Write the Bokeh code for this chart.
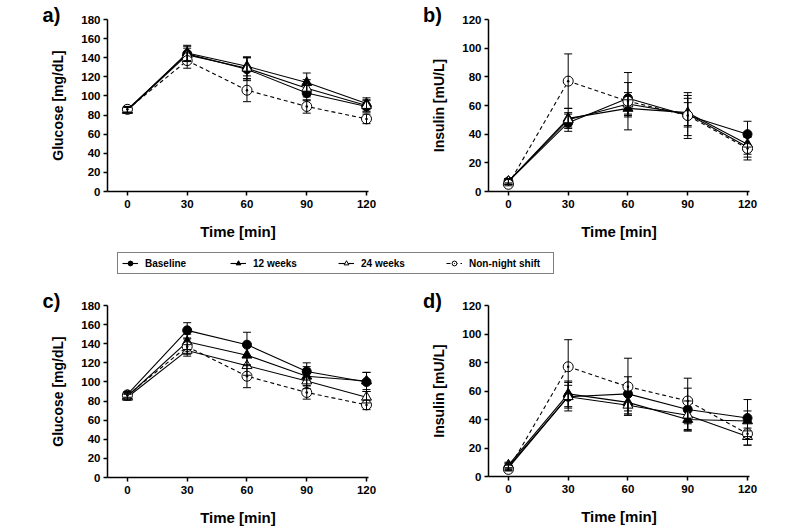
from bokeh.plotting import figure
from bokeh.layouts import column, row
from bokeh.models import (ColumnDataSource, Whisker, TeeHead, FixedTicker, Range1d,
                          Label, Legend, LegendItem)
from bokeh.embed import file_html
from bokeh.resources import INLINE

# ---------------- data ----------------
time_min = [0, 30, 60, 90, 120]
glucose_ticks = [0, 20, 40, 60, 80, 100, 120, 140, 160, 180]
insulin_ticks = [0, 20, 40, 60, 80, 100, 120]
series_names = ["Baseline", "12 weeks", "24 weeks", "Non-night shift"]

# panel a) glucose
a_baseline = [86, 144, 128, 103, 89]
a_baseline_err = [3, 8, 12, 8, 6]
a_12w = [85, 145, 131, 114, 92]
a_12w_err = [3, 8, 10, 10, 6]
a_24w = [85, 143, 129, 108, 90]
a_24w_err = [3, 7, 11, 9, 6]
a_nonnight = [86, 137, 106, 89, 76]
a_nonnight_err = [3, 8, 12, 7, 5]

# panel b) insulin
b_baseline = [7, 48, 65, 53, 40]
b_baseline_err = [2, 6, 11, 14, 9]
b_12w = [7, 51, 58, 55, 33]
b_12w_err = [2, 7, 6, 10, 7]
b_24w = [7, 50, 61, 54, 31]
b_24w_err = [2, 5, 8, 8, 7]
b_nonnight = [5, 77, 63, 53, 30]
b_nonnight_err = [1, 19, 20, 16, 8]

# panel c) glucose
c_baseline = [87, 154, 139, 111, 100]
c_baseline_err = [3, 8, 13, 9, 10]
c_12w = [85, 142, 128, 106, 101]
c_12w_err = [3, 8, 11, 10, 9]
c_24w = [84, 133, 117, 101, 84]
c_24w_err = [3, 6, 10, 8, 6]
c_nonnight = [86, 137, 106, 89, 76]
c_nonnight_err = [3, 8, 12, 7, 5]

# panel d) insulin
d_baseline = [6, 56, 58, 47, 41]
d_baseline_err = [2, 10, 12, 15, 13]
d_12w = [8, 58, 52, 40, 39]
d_12w_err = [2, 9, 8, 8, 7]
d_24w = [7, 56, 50, 43, 28]
d_24w_err = [2, 8, 7, 10, 6]
d_nonnight = [5, 77, 63, 53, 30]
d_nonnight_err = [1, 19, 20, 16, 8]

FONT = "Liberation Sans"
STYLES = [
    dict(marker="circle", fill="black", size=9, dash="solid"),
    dict(marker="triangle", fill="black", size=10, dash="solid"),
    dict(marker="triangle", fill="white", size=10, dash="solid"),
    dict(marker="circle_dot", fill="white", size=10, dash="4 3"),
]

W, H = 400, 245
panel_sources = {}


def make_panel(key, letter, ylabel, ytop, yticks, series, axis_px, y0_px, ytop_px):
    # pixel layout: x=-10 at axis_px, x=120 at axis_px+259; y=0 at y0_px, y=ytop at ytop_px
    xs = 259.0 / 130.0
    ys = (y0_px - ytop_px) / ytop
    x_start = -10 - axis_px / xs
    x_end = -10 + (W - axis_px) / xs
    y_start = -(H - y0_px) / ys
    y_end = y0_px / ys
    p = figure(width=W, height=H, output_backend="svg", toolbar_location=None,
               x_range=Range1d(x_start, x_end), y_range=Range1d(y_start, y_end),
               min_border_left=0, min_border_right=0, min_border_top=0, min_border_bottom=0)
    p.outline_line_color = None
    p.xgrid.visible = False
    p.ygrid.visible = False
    p.background_fill_color = "white"
    p.border_fill_color = "white"

    srcs = []
    for (vals, errs), st in zip(series, STYLES):
        lower = [v - e for v, e in zip(vals, errs)]
        upper = [v + e for v, e in zip(vals, errs)]
        src = ColumnDataSource(dict(x=time_min, y=vals, lower=lower, upper=upper))
        srcs.append(src)
        p.add_layout(Whisker(source=src, base="x", lower="lower", upper="upper",
                             line_color="black", line_width=1, level="glyph",
                             upper_head=TeeHead(size=8, line_color="black", line_width=1),
                             lower_head=TeeHead(size=8, line_color="black", line_width=1)))
        p.line("x", "y", source=src, line_color="black", line_width=1.1, line_dash=st["dash"])
        p.scatter("x", "y", source=src, marker=st["marker"], size=st["size"],
                  fill_color=st["fill"], line_color="black", line_width=1)
    panel_sources[key] = srcs

    for ax in (p.xaxis[0], p.yaxis[0]):
        ax.axis_line_color = "black"
        ax.axis_line_width = 1.5
        ax.major_tick_line_color = "black"
        ax.major_tick_line_width = 1.5
        ax.major_tick_out = 4
        ax.major_tick_in = 0
        ax.minor_tick_line_color = None
        ax.major_label_text_font = FONT
        ax.major_label_text_font_style = "bold"
        ax.major_label_text_font_size = "11.5px"
        ax.major_label_text_color = "black"
        ax.axis_label_text_font = FONT
        ax.axis_label_text_font_style = "bold"
        ax.axis_label_text_color = "black"

    p.xaxis.fixed_location = 0
    p.xaxis.ticker = FixedTicker(ticks=time_min)
    p.xaxis.bounds = (-10, 121)
    p.xaxis.axis_label = "Time [min]"
    p.xaxis.axis_label_text_font_size = "15px"
    p.xaxis.major_label_standoff = 4
    p.xaxis.axis_label_standoff = 12

    p.yaxis.fixed_location = -10
    p.yaxis.ticker = FixedTicker(ticks=yticks)
    p.yaxis.bounds = (0, ytop)
    p.yaxis.axis_label = ylabel
    p.yaxis.axis_label_text_font_size = "14px"
    p.yaxis.major_label_standoff = 3
    p.yaxis.axis_label_standoff = 12

    # panel letter, centred ~56 px left of the y axis and ~4.5 px above its top tick
    p.add_layout(Label(x=-10 - 56 / xs, y=ytop + 4.5 / ys, text=letter, text_font=FONT,
                       text_font_style="bold", text_font_size="20px", text_color="black",
                       text_align="center", text_baseline="middle"))
    return p


pa = make_panel("a", "a)", "Glucose [mg/dL]", 180, glucose_ticks,
                [(a_baseline, a_baseline_err), (a_12w, a_12w_err),
                 (a_24w, a_24w_err), (a_nonnight, a_nonnight_err)],
                107, 191, 19)
pb = make_panel("b", "b)", "Insulin [mU/L]", 120, insulin_ticks,
                [(b_baseline, b_baseline_err), (b_12w, b_12w_err),
                 (b_24w, b_24w_err), (b_nonnight, b_nonnight_err)],
                88, 191, 19)
pc = make_panel("c", "c)", "Glucose [mg/dL]", 180, glucose_ticks,
                [(c_baseline, c_baseline_err), (c_12w, c_12w_err),
                 (c_24w, c_24w_err), (c_nonnight, c_nonnight_err)],
                107, 192, 20)
pd_ = make_panel("d", "d)", "Insulin [mU/L]", 120, insulin_ticks,
                 [(d_baseline, d_baseline_err), (d_12w, d_12w_err),
                  (d_24w, d_24w_err), (d_nonnight, d_nonnight_err)],
                 88, 191, 20)

# ---------------- legend strip ----------------
# legend renderers reuse panel a's data; the strip's ranges keep them out of view
pl = figure(width=800, height=40, output_backend="svg", toolbar_location=None,
            x_range=Range1d(1000, 1001), y_range=Range1d(1000, 1001),
            x_axis_type=None, y_axis_type=None,
            min_border_left=0, min_border_right=0, min_border_top=0, min_border_bottom=0)
pl.outline_line_color = None
pl.xgrid.visible = False
pl.ygrid.visible = False
items = []
for name, st, src in zip(series_names, STYLES, panel_sources["a"]):
    lr = pl.line("x", "y", source=src, line_color="black", line_width=1.1, line_dash=st["dash"])
    sr = pl.scatter("x", "y", source=src, marker=st["marker"], size=st["size"] - 1,
                    fill_color=st["fill"], line_color="black", line_width=1)
    items.append(LegendItem(label=name, renderers=[lr, sr], index=0))
leg = Legend(items=items, orientation="horizontal", location=(117, 11),
             glyph_width=16, glyph_height=12, label_height=12, label_width=80,
             label_standoff=7, spacing=5, padding=4, margin=0,
             border_line_color="black", border_line_width=1,
             background_fill_color="white", background_fill_alpha=1,
             label_text_font=FONT, label_text_font_style="bold",
             label_text_font_size="10px", label_text_color="black")
pl.add_layout(leg, "center")

layout = column(row(pa, pb), pl, row(pc, pd_))
open("out.html", "w").write(file_html(layout, INLINE))
